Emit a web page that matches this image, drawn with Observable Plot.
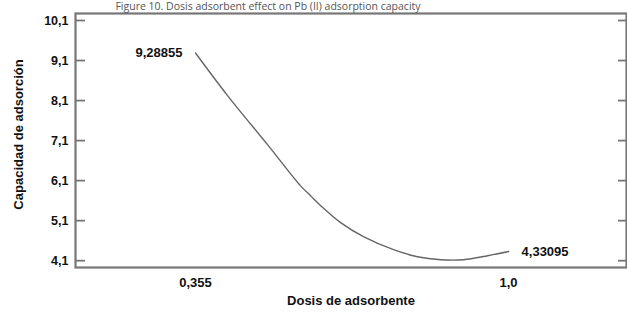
<!DOCTYPE html>
<html>
<head>
<meta charset="utf-8">
<script src="https://cdn.jsdelivr.net/npm/d3@7"></script>
<script src="https://cdn.jsdelivr.net/npm/@observablehq/plot@0.6"></script>
<style>
  html, body { margin: 0; padding: 0; background: #fff; overflow: hidden; }
  #wrap { position: relative; width: 627px; height: 316px; }
  #title { position: absolute; left: 268px; transform: translateX(-50%); top: 0px; font-family: "Open Sans", sans-serif; font-size: 10.5px; color: #555; white-space: nowrap; line-height: 12px; z-index: 2; }
  #chart { position: absolute; left: 0; top: 0; }
</style>
</head>
<body>
<div id="wrap">
  <div id="title"></div>
  <div id="chart"></div>
</div>
<script>
const titleText = "Figure 10. Dosis adsorbent effect on Pb (II) adsorption capacity";
const dosis = [0.355, 0.421, 0.505, 0.571, 0.592, 0.613, 0.654, 0.701, 0.763, 0.812, 0.860, 0.907, 0.957, 1.0];
const capacidad = [9.28855, 8.225, 6.975, 5.975, 5.725, 5.475, 5.05, 4.70, 4.375, 4.20, 4.125, 4.125, 4.225, 4.33095];
const yTicks = [4.1, 5.1, 6.1, 7.1, 8.1, 9.1, 10.1];
const xTicks = [0.355, 1.0];
const xTickLabels = ["0,355", "1,0"];
const endLabels = ["9,28855", "4,33095"];
const xTitle = "Dosis de adsorbente";
const yTitle = "Capacidad de adsorción";

document.getElementById("title").textContent = titleText;

const data = dosis.map((x, i) => ({x, y: capacidad[i]}));
const first = [{x: dosis[0], y: capacidad[0], label: endLabels[0]}];
const last = [{x: dosis[dosis.length - 1], y: capacidad[capacidad.length - 1], label: endLabels[1]}];
const fmtY = d => d.toFixed(1).replace(".", ",");

const font = "'Liberation Sans', Arial, sans-serif";
const ink = "#111";
const chart = Plot.plot({
  width: 627,
  height: 316,
  marginLeft: 75,
  marginRight: 1,
  marginTop: 13,
  marginBottom: 49,
  style: {fontFamily: font, fontSize: "12px", fontWeight: "bold", color: ink, background: "transparent"},
  x: {domain: [0.1077, 1.243]},
  y: {domain: [3.93, 10.275]},
  marks: [
    Plot.axisY(yTicks, {anchor: "left", tickSize: 0, tickPadding: 7, tickFormat: fmtY, fontSize: 12.5, fontWeight: "bold", fill: ink, label: null}),
    Plot.axisY(yTicks, {anchor: "left", tickSize: -10, stroke: "#777", strokeWidth: 1.8, text: null, label: null}),
    Plot.axisY(yTicks, {anchor: "right", tickSize: -9, stroke: "#777", strokeWidth: 1.8, text: null, label: null}),
    Plot.axisX(xTicks, {anchor: "bottom", tickSize: 0, tickPadding: 10, tickFormat: (d, i) => xTickLabels[i], fontSize: 13, fontWeight: "bold", fill: ink, label: null}),
    Plot.text([xTitle], {frameAnchor: "bottom", lineAnchor: "middle", dy: 33, fontSize: 13, fontWeight: "bold", fill: ink}),
    Plot.text([yTitle], {frameAnchor: "left", textAnchor: "middle", lineAnchor: "middle", dx: -57, dy: -6, rotate: -90, fontSize: 13, fontWeight: "bold", fill: ink}),
    Plot.frame({stroke: "#777", strokeWidth: 2.2}),
    Plot.line(data, {x: "x", y: "y", stroke: "#666", strokeWidth: 1.4, curve: "catmull-rom"}),
    Plot.text(first, {x: "x", y: "y", text: "label", textAnchor: "end", dx: -13, fontSize: 13, fontWeight: "bold", fill: ink}),
    Plot.text(last, {x: "x", y: "y", text: "label", textAnchor: "start", dx: 13, fontSize: 13, fontWeight: "bold", fill: ink})
  ]
});
document.getElementById("chart").append(chart);
</script>
</body>
</html>
